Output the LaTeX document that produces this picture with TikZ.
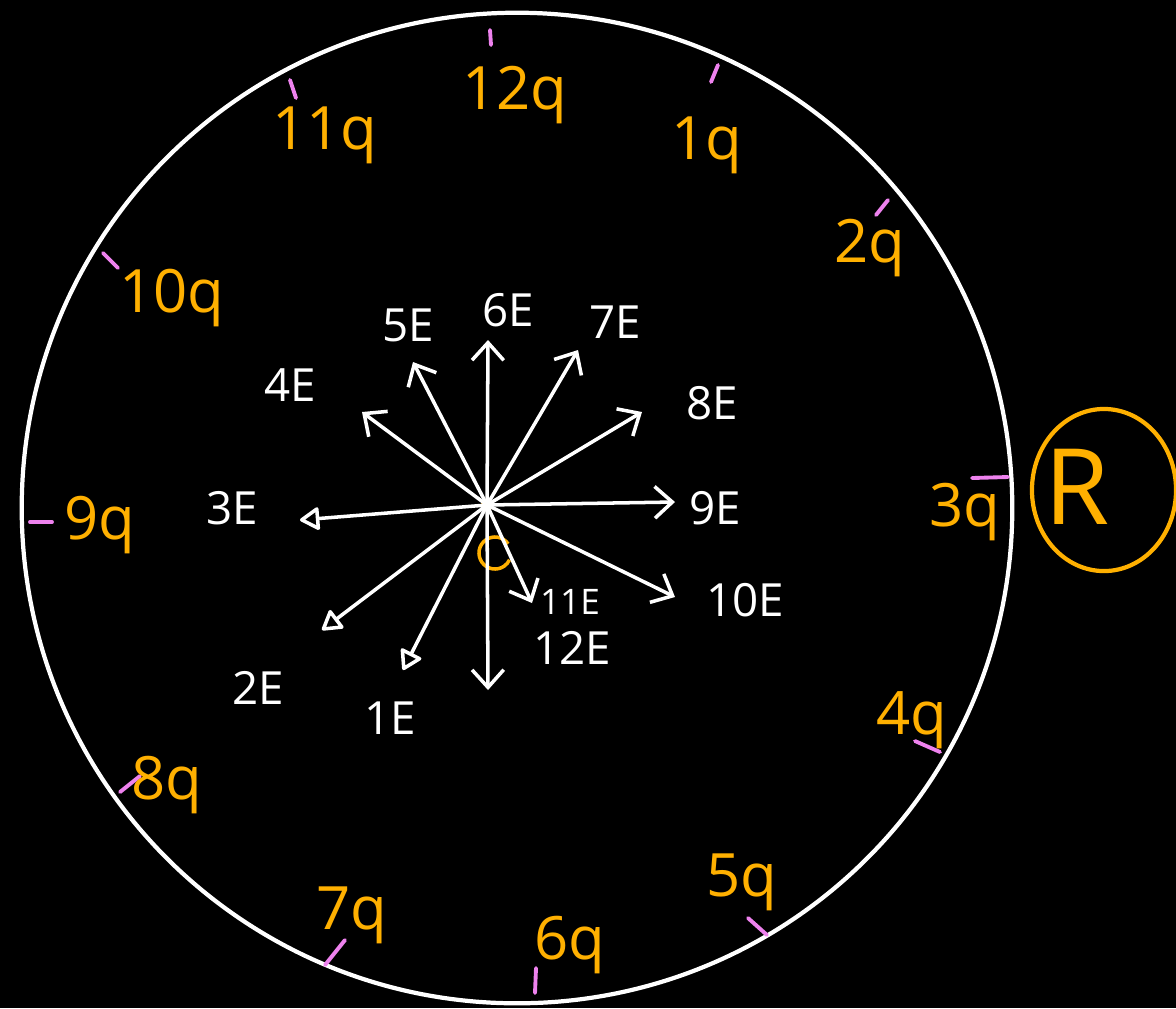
\documentclass[tikz,border=0pt]{standalone}
\usepackage{fontspec}
\setmainfont{Open Sans}
\usepackage{xcolor}
\usetikzlibrary{arrows.meta}

\definecolor{chargeorange}{HTML}{FFB000}
\definecolor{tickpink}{HTML}{EE82EE}

\tikzset{
  charge/.style={text=chargeorange,font=\fontsize{17}{20}\selectfont,inner sep=1pt},
  field/.style={text=white,font=\fontsize{13}{15}\selectfont,inner sep=1pt},
  fieldarrow/.style={white,line width=1pt,line cap=round,
    -{Straight Barb[length=5pt,width=9pt,line width=1pt]}},
  looparrow/.style={white,line width=1pt,line cap=round,
    -{Triangle[open,round,length=6pt,width=7pt,line width=1pt]}},
  tickmark/.style={tickpink,line width=1.1pt,line cap=round}
}

\begin{document}
\begin{tikzpicture}[x=0.01cm,y=-0.01cm]
  \fill[black] (0,0) rectangle (1176,1008);
  \useasboundingbox (0,0) rectangle (1176,1008);

  % ring of charges
  \coordinate (o) at (517,508);
  \draw[white,line width=1.2pt] (o) circle[radius=4.95cm];
  \foreach \xa/\ya/\xb/\yb in {490/30/491/45, 711/82/718/65, 290/80/296/98,
      876/215/888/200, 103/253/118/268, 30/522/52/522, 972/478/1008/477,
      915/741/940/752, 748/918/767/935, 536/968/535/993, 325/965/345/940,
      120/792/140/776}
    \draw[tickmark] (\xa,\ya) -- (\xb,\yb);
  \foreach \n/\x/\y in {12/515/95, 1/707/145, 11/325/135, 2/870/248,
      10/172/298, 9/100/525, 3/965/512, 4/912/720, 5/742/882, 6/570/945,
      7/352/915, 8/167/785}
    \node[charge] (q\n) at (\x,\y) {\n q};

  % point C and the field vectors
  \coordinate (c) at (487,505);
  \fill[chargeorange] (c) circle[radius=0.06cm];
  \coordinate (cc) at (495,553);
  \draw[chargeorange,line width=1pt] (cc) ++(35:0.16cm) arc[start angle=35,end angle=335,radius=0.16cm];
  \foreach \n/\x/\y in {4/362/412, 5/413/362, 6/488/340, 7/578/350,
      8/642/412, 9/675/502, 10/675/597, 11/532/603, 12/488/690}
    {\coordinate (t\n) at (\x,\y);
     \draw[fieldarrow] (c) -- (t\n);}
  \foreach \n/\x/\y in {1/403/670, 2/322/630, 3/300/520}
    {\coordinate (t\n) at (\x,\y);
     \draw[looparrow] (c) -- (t\n);}
  \foreach \n/\x/\y in {1/390/718, 2/258/688, 3/232/508, 4/290/385,
      5/408/325, 6/508/310, 7/615/322, 8/712/403, 9/715/508, 10/745/600,
      12/572/648}
    \node[field] (e\n) at (\x,\y) {\n E};
  \node[field,font=\fontsize{10}{12}\selectfont] (e11) at (570,602) {11E};

  % R
  \node[text=chargeorange,font=\fontsize{30}{34}\selectfont] (r) at (1077,487) {R};
  \draw[chargeorange,line width=1.2pt] (1104,490) ellipse[x radius=0.72cm,y radius=0.81cm];
\end{tikzpicture}
\end{document}
